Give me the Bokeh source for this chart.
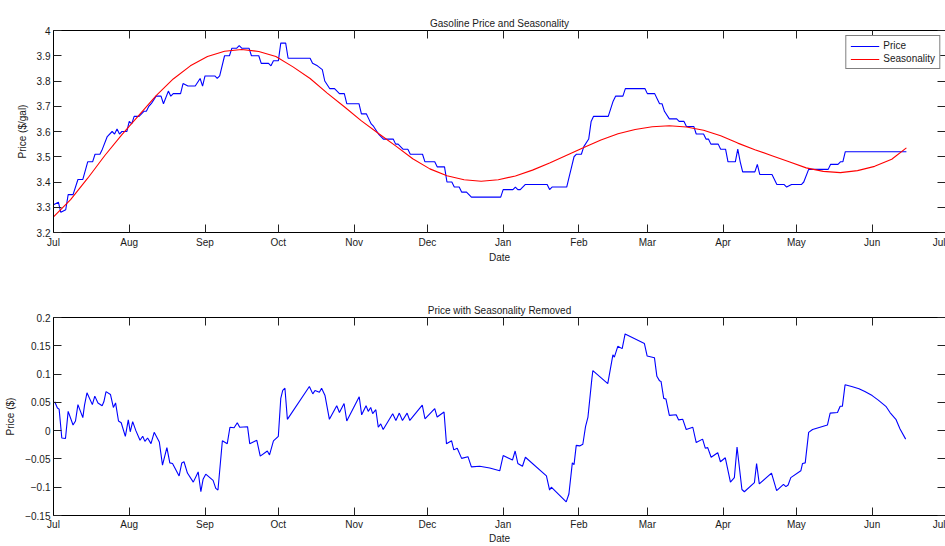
import pandas as pd
from bokeh.plotting import figure
from bokeh.layouts import column
from bokeh.models import (DatetimeAxis, LinearAxis, FixedTicker, MonthsTicker,
                          DatetimeTickFormatter, Range1d, Legend, LegendItem,
                          CustomLabelingPolicy)
from bokeh.embed import file_html
from bokeh.resources import INLINE

# Season year covered by the chart
START = pd.Timestamp("2012-07-01")
END = pd.Timestamp("2013-07-01")

# Retail gasoline price ($/gal), day offsets from START
price_day = [0, 2, 3, 5, 6, 8, 10, 12, 14, 16, 17, 19, 20, 22, 24, 25, 26, 27, 28, 30,
             31, 32, 33, 35, 37, 38, 39, 40, 42, 44, 45, 47, 48, 49, 52, 53, 55, 58, 60, 61,
             62, 66, 67, 68, 70, 72, 73, 75, 76, 77, 80, 81, 84, 85, 88, 89, 90, 92, 93, 95,
             96, 105, 106, 108, 110, 111, 113, 115, 117, 119, 120, 125, 126, 128, 129, 130, 131, 133, 135, 139,
             140, 141, 143, 145, 146, 151, 152, 156, 157, 160, 161, 163, 164, 166, 167, 169, 171, 183, 184, 188,
             189, 190, 191, 193, 202, 203, 204, 210, 211, 212, 213, 214, 216, 217, 219, 220, 221, 227, 229, 230,
             233, 234, 242, 243, 246, 247, 248, 249, 250, 252, 255, 256, 258, 259, 262, 263, 266, 267, 268, 269,
             272, 273, 275, 276, 279, 280, 281, 282, 287, 288, 289, 294, 296, 299, 300, 302, 306, 307, 309, 317,
             318, 321, 322, 323, 324, 349]
price_val = [3.31, 3.32, 3.28, 3.29, 3.35, 3.35, 3.41, 3.41, 3.48, 3.48, 3.51, 3.51, 3.53, 3.58, 3.60, 3.59, 3.61, 3.59, 3.60, 3.60,
             3.64, 3.63, 3.66, 3.66, 3.68, 3.68, 3.70, 3.71, 3.74, 3.74, 3.71, 3.76, 3.74, 3.75, 3.75, 3.79, 3.78, 3.78, 3.81, 3.78,
             3.82, 3.82, 3.81, 3.82, 3.90, 3.90, 3.93, 3.93, 3.94, 3.93, 3.93, 3.90, 3.90, 3.87, 3.87, 3.86, 3.88, 3.88, 3.95, 3.95,
             3.89, 3.89, 3.87, 3.86, 3.845, 3.80, 3.77, 3.77, 3.75, 3.75, 3.71, 3.71, 3.67, 3.67, 3.65, 3.63, 3.62, 3.59, 3.57, 3.57,
             3.55, 3.55, 3.53, 3.53, 3.51, 3.51, 3.48, 3.48, 3.46, 3.46, 3.40, 3.40, 3.38, 3.38, 3.36, 3.36, 3.34, 3.34, 3.37, 3.37,
             3.38, 3.37, 3.37, 3.39, 3.39, 3.37, 3.38, 3.38, 3.42, 3.46, 3.50, 3.51, 3.51, 3.54, 3.57, 3.64, 3.66, 3.66, 3.72, 3.74,
             3.74, 3.77, 3.77, 3.75, 3.75, 3.73, 3.71, 3.71, 3.68, 3.65, 3.65, 3.64, 3.64, 3.62, 3.62, 3.59, 3.59, 3.57, 3.57, 3.55,
             3.55, 3.53, 3.53, 3.48, 3.48, 3.53, 3.48, 3.44, 3.44, 3.47, 3.43, 3.43, 3.39, 3.39, 3.38, 3.39, 3.39, 3.40, 3.45, 3.45,
             3.47, 3.47, 3.48, 3.48, 3.52, 3.52]

# Fitted seasonal component ($/gal)
season_day = [0, 7, 14, 21, 28, 35, 42, 49, 56, 63, 70, 77, 84, 91, 98, 105, 112, 119, 126, 133,
              140, 147, 154, 161, 168, 175, 182, 189, 196, 203, 210, 217, 224, 231, 238, 245, 252, 259, 266, 273,
              280, 287, 294, 301, 308, 315, 322, 329, 336, 343, 349]
season_val = [3.262, 3.33, 3.415, 3.505, 3.588, 3.665, 3.742, 3.808, 3.86, 3.897, 3.918, 3.925, 3.917, 3.897, 3.856, 3.81, 3.752, 3.698, 3.642, 3.592,
              3.543, 3.492, 3.452, 3.425, 3.409, 3.403, 3.409, 3.424, 3.447, 3.475, 3.506, 3.537, 3.566, 3.591, 3.608, 3.619, 3.623, 3.618, 3.605, 3.583,
              3.554, 3.528, 3.504, 3.48, 3.456, 3.442, 3.437, 3.445, 3.462, 3.49, 3.535]

# Price with the seasonal component removed ($)
resid_day = [0.5, 1.6, 2.3, 3.4, 4.9, 6, 8, 9, 10, 12, 12.7, 13.7, 15.9, 16.9, 18.2, 19.9, 20.6, 21.5, 23.3, 24.5,
             25.4, 26.6, 27.7, 29.4, 30.6, 31.4, 32.4, 33.7, 35.4, 36.5, 37.4, 38.5, 39.9, 41.2, 43.3, 44.6, 46.4, 47.6, 48.7, 51.4,
             52.5, 53.4, 54.8, 57.2, 59.2, 60.3, 61.2, 62.3, 65.3, 66.4, 67.3, 69.1, 71.1, 72.2, 73.9, 75.2, 76.2, 79.4, 80.3, 83.2,
             84.6, 87.5, 88.4, 90, 92, 93, 93.8, 94.7, 95.7, 104.7, 106.1, 107, 108.8, 109.7, 111.1, 112.9, 115.9, 117, 118.9, 120,
             125.1, 126.1, 127.9, 128.8, 129.8, 130.6, 131.9, 132.9, 133.9, 134.9, 138.8, 140.1, 141.5, 142.8, 144.7, 145.8, 150.9, 152, 156, 157,
             159.8, 160.8, 162.9, 163.8, 165.2, 167, 169.6, 171, 174.4, 178.5, 182.6, 184, 187.8, 188.9, 190, 191.9, 193.1, 201.7, 203, 203.7,
             209.8, 210.9, 212.3, 213, 213.9, 215.3, 216.6, 217.7, 218.7, 220.3, 220.7, 226.8, 228.9, 229.5, 230.9, 232.7, 233.9, 241.8, 242.9, 245.9,
             246.9, 248, 248.6, 249.7, 250.6, 252, 254.8, 255.8, 257.5, 258.9, 261.6, 263, 265.6, 266.7, 267.7, 269.1, 271.8, 272.9, 274.9, 277,
             278.6, 279.7, 281.7, 282.7, 286.8, 287.7, 288.8, 293.8, 295.9, 298.7, 299.7, 300.6, 301.7, 305.8, 306.5, 307.6, 309, 310.6, 316.7, 317.8,
             320.8, 321.9, 322.8, 323.9, 326.6, 329.6, 332, 335, 337.5, 340.6, 342.3, 344.7, 346.4, 348.7]
resid_val = [0.051, 0.040, 0.038, -0.013, -0.014, 0.034, 0.010, 0.017, 0.046, 0.023, 0.045, 0.067, 0.046, 0.061, 0.049, 0.044, 0.051, 0.069, 0.064, 0.041,
             0.049, 0.017, 0.014, -0.010, 0.019, -0.002, 0.016, 0.000, -0.017, -0.010, -0.019, -0.013, -0.023, -0.003, -0.020, -0.061, -0.030, -0.057, -0.058, -0.080,
             -0.057, -0.055, -0.075, -0.091, -0.073, -0.108, -0.086, -0.077, -0.088, -0.102, -0.105, -0.018, -0.023, 0.006, 0.005, 0.014, 0.006, 0.007, -0.023, -0.017,
             -0.045, -0.036, -0.043, -0.018, -0.010, 0.057, 0.071, 0.075, 0.020, 0.078, 0.065, 0.071, 0.068, 0.075, 0.062, 0.020, 0.044, 0.032, 0.048, 0.017,
             0.060, 0.028, 0.044, 0.034, 0.041, 0.030, 0.037, 0.006, 0.012, 0.002, 0.030, 0.018, 0.031, 0.018, 0.031, 0.018, 0.045, 0.021, 0.039, 0.024,
             0.033, -0.023, -0.018, -0.034, -0.031, -0.049, -0.046, -0.064, -0.063, -0.066, -0.071, -0.044, -0.052, -0.036, -0.058, -0.063, -0.047, -0.080, -0.105, -0.100,
             -0.126, -0.112, -0.057, -0.060, -0.026, -0.027, -0.024, 0.007, 0.024, 0.092, 0.106, 0.083, 0.134, 0.130, 0.149, 0.145, 0.171, 0.154, 0.132, 0.129,
             0.096, 0.088, 0.087, 0.057, 0.056, 0.027, 0.028, 0.019, 0.020, 0.002, 0.006, -0.021, -0.015, -0.031, -0.030, -0.047, -0.039, -0.055, -0.048, -0.091,
             -0.083, -0.029, -0.104, -0.108, -0.092, -0.058, -0.094, -0.075, -0.106, -0.095, -0.099, -0.096, -0.083, -0.071, -0.058, -0.057, -0.003, 0.002, 0.010, 0.031,
             0.032, 0.043, 0.043, 0.081, 0.078, 0.074, 0.069, 0.062, 0.054, 0.043, 0.032, 0.020, 0.003, -0.015]

# Axis ticks and their labels
price_ticks = [3.2, 3.3, 3.4, 3.5, 3.6, 3.7, 3.8, 3.9, 4.0]
price_tick_labels = ["3.2", "3.3", "3.4", "3.5", "3.6", "3.7", "3.8", "3.9", "4"]
resid_ticks = [-0.15, -0.1, -0.05, 0.0, 0.05, 0.1, 0.15, 0.2]
resid_tick_labels = ["\u22120.15", "\u22120.1", "\u22120.05", "0", "0.05", "0.1", "0.15", "0.2"]

FONT = "Liberation Sans"
TEXT = "#1a1a1a"


def to_dates(days):
    return START + pd.to_timedelta(days, unit="D")


def month_formatter():
    return DatetimeTickFormatter(years="%b", months="%b", days="%b", hours="%b",
                                 minutes="%b", seconds="%b", milliseconds="%b",
                                 minsec="%b", hourmin="%b")


def styled_figure(title, height, y_lo, y_hi, ticks, labels, ylabel, top, bottom,
                  tick_standoff, label_standoff):
    p = figure(width=945, height=height, output_backend="svg", toolbar_location=None,
               x_axis_type="datetime", x_range=Range1d(START, END),
               y_range=Range1d(y_lo, y_hi), title=title,
               min_border_left=53, min_border_right=0,
               min_border_top=top, min_border_bottom=bottom)
    p.outline_line_color = None
    p.background_fill_color = "white"
    p.border_fill_color = "white"
    p.xgrid.visible = False
    p.ygrid.visible = False

    p.title.text_font = FONT
    p.title.text_font_size = "10px"
    p.title.text_font_style = "normal"
    p.title.text_color = TEXT
    p.title.align = "center"
    p.title.standoff = 3

    yticker = FixedTicker(ticks=ticks)
    xticker = MonthsTicker(months=list(range(12)))

    xa = p.below[0]
    xa.ticker = xticker
    xa.formatter = month_formatter()
    xa.axis_label = "Date"
    xa.major_label_standoff = tick_standoff
    xa.axis_label_standoff = label_standoff

    ya = p.left[0]
    ya.ticker = yticker
    ya.major_label_overrides = dict(zip(ticks, labels))
    ya.axis_label = ylabel
    ya.major_label_standoff = 3
    ya.axis_label_standoff = 6

    # tick marks only (no labels) along the top and right edges of the box
    no_labels = CustomLabelingPolicy(code="for (const i of indices) indices.unset(i)")
    top_axis = DatetimeAxis(ticker=xticker, formatter=month_formatter())
    right_axis = LinearAxis(ticker=yticker)
    for ax in (top_axis, right_axis):
        ax.major_label_policy = no_labels
        ax.major_label_standoff = 0
    right_axis.axis_line_color = None
    p.add_layout(top_axis, "above")
    p.add_layout(right_axis, "right")

    for ax in (xa, ya, top_axis, right_axis):
        ax.major_tick_in = 8
        ax.major_tick_out = 0
        ax.minor_tick_line_color = None
        ax.major_tick_line_color = "#222222"
        ax.major_tick_line_width = 1
        if ax is not right_axis:
            ax.axis_line_color = "black"
            ax.axis_line_width = 1
        ax.major_label_text_font = FONT
        ax.major_label_text_font_size = "10px"
        ax.major_label_text_color = TEXT
        ax.axis_label_text_font = FONT
        ax.axis_label_text_font_size = "10px"
        ax.axis_label_text_font_style = "normal"
        ax.axis_label_text_color = TEXT
    for ax in (top_axis, right_axis):
        ax.major_label_text_font_size = "0px"
    return p


# Upper panel: price and its seasonal fit
p1 = styled_figure("Gasoline Price and Seasonality", 265, 3.2, 4.0,
                   price_ticks, price_tick_labels, "Price ($/gal)", 30, 29, 4, 1)
r_price = p1.line(to_dates(price_day), price_val, line_color="#0000ff", line_width=1.1)
r_season = p1.line(to_dates(season_day), season_val, line_color="#ff0000", line_width=1.1)

legend = Legend(items=[LegendItem(label="Price", renderers=[r_price]),
                       LegendItem(label="Seasonality", renderers=[r_season])],
                location="top_right")
legend.label_text_font = FONT
legend.label_text_font_size = "10px"
legend.label_text_color = TEXT
legend.border_line_color = "black"
legend.border_line_width = 1
legend.background_fill_color = "white"
legend.background_fill_alpha = 1
legend.margin = 5
legend.padding = 4
legend.spacing = 2
legend.glyph_width = 29
legend.glyph_height = 10
legend.label_height = 10
legend.label_standoff = 4
p1.add_layout(legend)

# Lower panel: residual after removing the seasonal component
p2 = styled_figure("Price with Seasonality Removed", 281, -0.15, 0.2,
                   resid_ticks, resid_tick_labels, "Price ($)", 52, 26, 3, 0)
p2.line(to_dates(resid_day), resid_val, line_color="#0000ff", line_width=1.1)

layout = column(p1, p2, spacing=0)

with open("out.html", "w") as f:
    f.write(file_html(layout, INLINE))
